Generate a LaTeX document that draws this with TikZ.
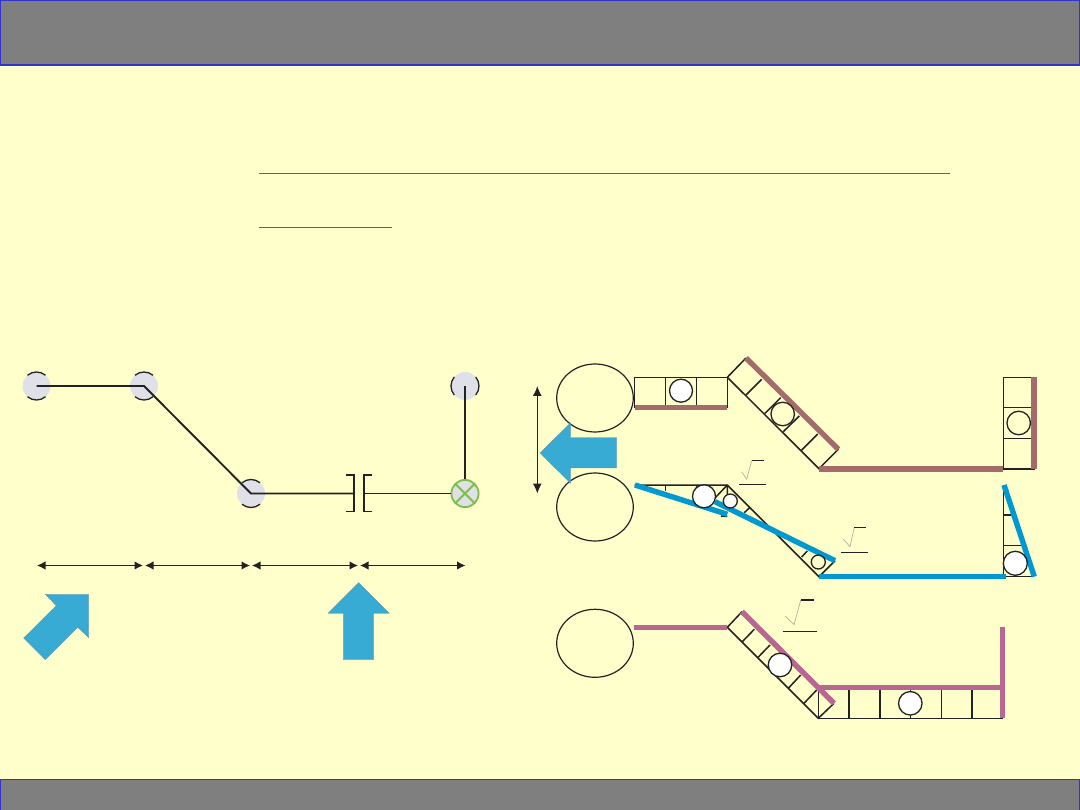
\documentclass[tikz,border=0pt]{standalone}
\usetikzlibrary{arrows.meta,shapes.geometric}
\definecolor{paper}{HTML}{FFFFCC}
\definecolor{bandgray}{HTML}{7F7F7F}
\definecolor{bandblue}{HTML}{3333CC}
\definecolor{jointgray}{HTML}{E0E0E8}
\definecolor{ink}{HTML}{222222}
\definecolor{arrowblue}{HTML}{38ABD4}
\definecolor{brownbar}{HTML}{A56B6B}
\definecolor{bluebar}{HTML}{0098D0}
\definecolor{purplebar}{HTML}{B96690}
\definecolor{crossgreen}{HTML}{7DBE47}
\definecolor{rulegray}{HTML}{5E5E78}
\tikzset{
  x=1pt,y=-1pt,
  band/.style={fill=bandgray,draw=bandblue,line width=1.5pt},
  joint/.style={circle,fill=jointgray,minimum size=28pt,inner sep=0pt,outer sep=0pt},
  jointarc/.style={draw=ink,line width=1.3pt},
  wire/.style={draw=ink,line width=1.9pt,line join=miter},
  dimline/.style={draw=ink,line width=1.2pt,{Latex[length=8.5pt,width=8.5pt]}-{Latex[length=8.5pt,width=8.5pt]}},
  bigarrow/.style={fill=arrowblue,draw=gray!70!arrowblue,line width=0.3pt},
  lobe/.style={ellipse,draw=ink,line width=1.2pt,minimum width=76.6pt,minimum height=68pt,inner sep=0pt,outer sep=0pt},
  cell/.style={draw=ink,line width=1.5pt},
  ball/.style={circle,draw=ink,fill=white,line width=1.3pt,inner sep=0pt,outer sep=0pt},
  ballopen/.style={circle,draw=ink,line width=1.3pt,inner sep=0pt,outer sep=0pt},
  brownb/.style={draw=brownbar,line width=5.4pt},
  blueb/.style={draw=bluebar,line width=5.4pt},
  purpleb/.style={draw=purplebar,line width=5.4pt},
  rootmark/.style={draw=gray!60!paper,line width=0.7pt},
  barline/.style={draw=ink,line width=1.1pt},
  toprule/.style={draw=rulegray,line width=1.7pt}
}
\begin{document}
\begin{tikzpicture}
\useasboundingbox (0,0) rectangle (1080,810);
\fill[paper] (0,0) rectangle (1080,810);
\draw[band] (0.7,0.7) rectangle (1079.3,64.8);
\draw[band] (0.7,779.5) rectangle (1079.3,812);
% text underlines
\draw[toprule] (259,173.5) -- (950,173.5);
\draw[toprule] (259,227.5) -- (392,227.5);

% ---------- left schematic
\node[joint] (j1) at (36.5,386) {};
\node[joint] (j2) at (144,386) {};
\node[joint] (j3) at (251,493.5) {};
\node[joint] (j4) at (465,386) {};
\node[joint] (j5) at (465,493.5) {};
\foreach \n in {j1,j2,j3}{
  \draw[jointarc] (\n.center) ++(50:14) arc[start angle=50,end angle=130,radius=14];
  \draw[jointarc] (\n.center) ++(230:14) arc[start angle=230,end angle=310,radius=14];
}
\draw[jointarc] (j4.center) ++(-40:14) arc[start angle=-40,end angle=40,radius=14];
\draw[jointarc] (j4.center) ++(140:14) arc[start angle=140,end angle=220,radius=14];
\draw[crossgreen,line width=1.8pt] (j5) circle[radius=13.6];
\draw[crossgreen,line width=1.8pt] (j5.center) ++(45:13.6) -- ++(225:27.2);
\draw[crossgreen,line width=1.8pt] (j5.center) ++(135:13.6) -- ++(315:27.2);
\coordinate (capL) at (354,493.5);
\coordinate (capR) at (364,493.5);
\draw[wire] (j1.center) -- (j2.center) -- (j3.center) -- (capL);
\draw[wire] (capR) -- (j5.west);
\draw[wire] (j4.center) -- (j5.north);
\draw[wire] (346,475) -- (354,475) -- (354,511.5) -- (346,511.5);
\draw[wire] (372,475) -- (364,475) -- (364,511.5) -- (372,511.5);
% dimension arrows
\coordinate (d0) at (37,565.5);
\coordinate (d1a) at (143,565.5);
\coordinate (d1b) at (145,565.5);
\coordinate (d2a) at (250,565.5);
\coordinate (d2b) at (252,565.5);
\coordinate (d3a) at (358,565.5);
\coordinate (d3b) at (360,565.5);
\coordinate (d4) at (465.5,565.5);
\draw[dimline] (d0) -- (d1a);
\draw[dimline] (d1b) -- (d2a);
\draw[dimline] (d2b) -- (d3a);
\draw[dimline] (d3b) -- (d4);
% block arrows
\draw[bigarrow] (45.3,594.3) -- (88.7,594.3) -- (88.7,637.7) -- (77.7,627.3) -- (45.3,659.7) -- (23.7,638) -- (56.3,605.7) -- cycle;
\draw[bigarrow] (358.7,582.7) -- (389.3,613.3) -- (373.7,613.3) -- (373.7,659.7) -- (343.3,659.7) -- (343.3,613.3) -- (328,613.3) -- cycle;

% ---------- lobes and left arrow of the right figure
\node[lobe] (l1) at (595,398) {};
\node[lobe] (l2) at (595,507) {};
\node[lobe] (l3) at (595,643.3) {};
\coordinate (sTop) at (537.3,386);
\coordinate (sBot) at (537.3,493.5);
\draw[draw=ink,line width=1.2pt,{Latex[length=10pt,width=9pt]}-{Latex[length=10pt,width=9pt]}] (sTop) -- (sBot);
\draw[bigarrow] (540,453) -- (570.7,422.7) -- (570.7,437.7) -- (616.7,437.7) -- (616.7,468) -- (570.7,468) -- (570.7,483.3) -- cycle;

% ---------- top row (brown)
\draw[cell] (634.7,377.3) rectangle (727.3,407.3);
\draw[cell] (665.7,377.3) -- (665.7,407.3) (696.3,377.3) -- (696.3,407.3);
\draw[cell] (727.3,377.3) -- (746,358) (727.3,377.3) -- (819,468.7) -- (838.3,449.3);
\draw[cell] (746,395) -- (761.7,379.3) (765,413.3) -- (780.7,397.7) (783.3,431.7) -- (799.3,416) (801.7,450) -- (817.7,434);
\draw[cell] (1003.3,377.3) rectangle (1034,469);
\draw[cell] (1003.3,407.3) -- (1034,407.3) (1003.3,438.3) -- (1034,438.3);
\draw[brownb] (634.7,407.3) -- (727,407.3);
\draw[brownb] (746,358) -- (838.3,449.3);
\draw[brownb] (819,469) -- (1002.7,469);
\draw[brownb] (1034,377.3) -- (1034,469);
\node[ball,minimum size=23pt] (b1) at (681,390.7) {};
\node[ballopen,minimum size=23.5pt] (b2) at (782.7,414) {};
\node[ballopen,minimum size=23.5pt] (b3) at (1018.7,423) {};

% ---------- middle row (blue)
\draw[cell] (634.7,485) -- (727.3,485) -- (819,576.7) -- (835,560.7);
\draw[cell] (665.7,485) -- (665.7,491) (696.3,485) -- (696.3,500);
\draw[cell] (727.3,485) -- (715,498) (727.3,485) -- (727.3,497);
\draw[cell] (744.3,512.7) -- (750,507.3) (801.7,557) -- (807.3,551);
\draw[cell] (721,516) -- (727.3,516.5);
\draw[cell] (1003.3,485) -- (1003.3,576.7) -- (1034.3,576.7);
\draw[cell] (1003.3,515) -- (1012,515) (1003.3,545.7) -- (1021,545.7);
\draw[blueb] (635,485) -- (727.3,514.3);
\draw[blueb] (715,501.7) -- (835,560.7);
\draw[blueb] (819,576.7) -- (1005.7,576.7);
\draw[blueb] (1004,485) -- (1034.3,576.7);
\node[ball,minimum size=23pt] (b4) at (704,496.3) {};
\node[ball,minimum size=14pt] (b5) at (730.3,501) {};
\node[ballopen,minimum size=14pt] (b6) at (818.3,562) {};
\node[ball,minimum size=24pt] (b7) at (1015.3,563.3) {};

% ---------- bottom row (purple)
\draw[cell] (727.3,627.3) -- (742,611.7) (727.3,627.3) -- (818.3,718.3) -- (834,703.3);
\draw[cell] (742.3,641.7) -- (754.3,629.3) (757.7,657.7) -- (770,645) (788.3,688.3) -- (800.7,675) (804,703.3) -- (816.7,690);
\draw[cell] (818.3,718.3) -- (1002.7,718.3);
\draw[cell] (818.3,687.7) -- (818.3,718.3) (849,687.7) -- (849,718.3) (880,687.7) -- (880,718.3) (910.3,687.7) -- (910.3,718.3) (941.3,687.7) -- (941.3,718.3) (972,687.7) -- (972,718.3);
\draw[purpleb] (634,627.3) -- (727.3,627.3);
\draw[purpleb] (742,611.7) -- (834,703.3);
\draw[purpleb] (818.3,687.7) -- (1002.7,687.7);
\draw[purpleb] (1002.7,627.3) -- (1002.7,718.3);
\node[ball,minimum size=23.5pt] (b8) at (780,665) {};
\node[ball,minimum size=23.5pt] (b9) at (910.3,703.3) {};

% ---------- root signs with empty radicands and fraction bars
\draw[rootmark] (741.7,471.7) -- (746.7,479.3) -- (751.7,460.5);
\draw[barline] (752.3,460.3) -- (763.7,460.3);
\draw[barline] (739,484.3) -- (765.7,484.3);
\draw[rootmark] (843.3,539.3) -- (850,546.7) -- (854.3,527.5);
\draw[barline] (854.3,527.3) -- (865.7,527.3);
\draw[barline] (841.3,552.3) -- (868,552.3);
\draw[rootmark] (785,616) -- (794,624.7) -- (800.7,600.2);
\draw[barline] (800.7,600) -- (814,600);
\draw[barline] (783,631.3) -- (817,631.3);
\end{tikzpicture}
\end{document}
